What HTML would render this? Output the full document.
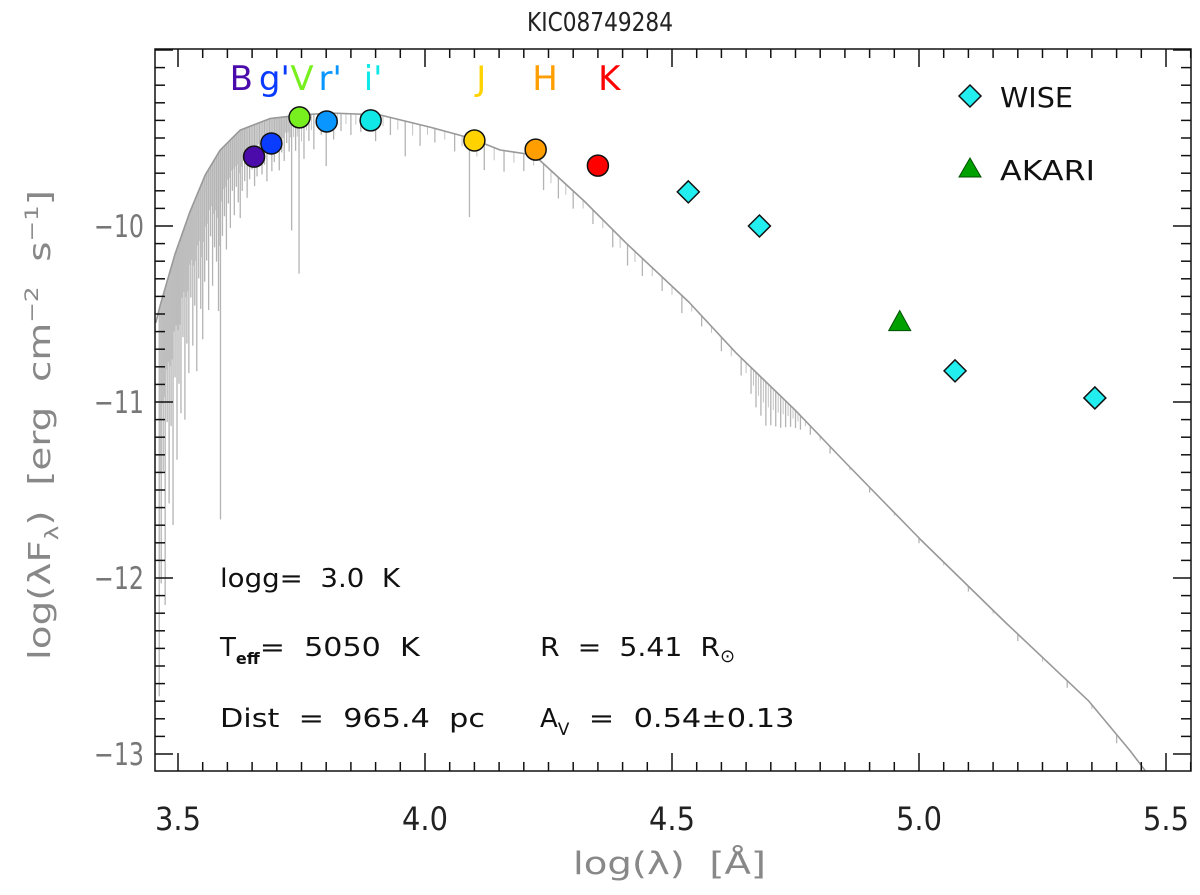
<!DOCTYPE html>
<html><head><meta charset="utf-8"><style>
html,body{margin:0;padding:0;background:#fff;}
svg{display:block;font-family:"DejaVu Sans","Liberation Sans",sans-serif;}
text{white-space:pre;}
</style></head><body>
<svg id="c" width="1200" height="895" viewBox="0 0 1200 895" xmlns="http://www.w3.org/2000/svg"></svg>
<script>
// ---- data ----
const photBands = ["B","g'","V","r'","i'","J","H","K"];
const photLabelLogLam = [3.628,3.695,3.751,3.808,3.895,4.114,4.243,4.373];
const photLogLam = [3.654,3.689,3.746,3.801,3.890,4.100,4.224,4.350];
const photLogFlux = [-9.606,-9.531,-9.383,-9.406,-9.400,-9.514,-9.566,-9.657];
const photColors = ["#4b0aaa","#0a3cff","#78f020","#0a96ff","#10e8e8","#ffd200","#ff9e00","#ff0000"];
const wiseLogLam = [4.533,4.677,5.073,5.356];
const wiseLogFlux = [-9.806,-10.0,-10.823,-10.977];
const akariLogLam = [4.961];
const akariLogFlux = [-10.543];
const modelLogLam = [3.455,3.464,3.494,3.524,3.555,3.585,3.626,3.686,3.747,3.808,3.909,4.010,4.091,4.152,4.221,4.322,4.407,4.534,4.630,4.749,4.850,5.004,5.174,5.344,5.427,5.50];
const modelLogFlux = [-10.55,-10.45,-10.16,-9.92,-9.71,-9.57,-9.455,-9.39,-9.37,-9.358,-9.369,-9.438,-9.50,-9.568,-9.597,-9.858,-10.097,-10.432,-10.722,-11.045,-11.341,-11.784,-12.25,-12.70,-12.98,-13.25];
const lineLogLam = [3.462,3.466,3.470,3.474,3.478,3.482,3.486,3.490,3.494,3.498,3.502,3.506,3.510,3.514,3.518,3.522,3.526,3.530,3.534,3.538,3.542,3.546,3.550,3.554,3.558,3.562,3.566,3.570,3.574,3.578,3.582,3.586,3.590,3.594,3.598,3.602,3.606,3.610,3.614,3.618,3.622,3.626,3.630,3.635,3.640,3.645,3.650,3.655,3.660,3.665,3.670,3.675,3.680,3.685,3.690,3.695,3.700,3.705,3.710,3.715,3.720,3.725,3.730,3.738,3.745,3.755,3.765,3.775,3.790,3.800,3.815,3.830,3.850,3.870,3.900,3.930,3.960,3.990,4.020,4.060,4.090,4.120,4.160,4.200,4.240,4.270,4.300,4.340,4.380,4.410,4.440,4.480,4.520,4.560,4.600,4.640,4.660,4.670,4.680,4.690,4.700,4.710,4.720,4.730,4.740,4.750,4.760,4.780,4.820,4.900,5.000,5.100,5.200,5.300,5.400];
const lineDepth = [2.2,1.6,1.0,1.8,0.8,1.3,0.9,1.5,0.7,1.2,0.8,1.0,0.6,1.1,0.7,0.9,0.5,0.8,0.6,1.0,0.5,0.7,0.9,0.6,0.5,0.8,0.4,0.7,0.5,0.6,0.9,2.1,0.5,0.4,0.6,0.35,0.5,0.3,0.45,0.3,0.4,0.5,0.35,0.3,0.4,0.3,0.25,0.35,0.3,0.2,0.3,0.25,0.35,0.2,0.3,0.25,0.2,0.3,0.2,0.25,0.15,0.2,0.65,0.2,0.9,0.25,0.15,0.2,0.12,0.3,0.15,0.1,0.12,0.1,0.15,0.1,0.2,0.12,0.08,0.1,0.45,0.15,0.12,0.1,0.15,0.12,0.1,0.08,0.1,0.12,0.1,0.08,0.1,0.06,0.08,0.1,0.15,0.2,0.22,0.25,0.22,0.2,0.18,0.15,0.12,0.1,0.08,0.05,0.04,0.03,0.03,0.03,0.04,0.04,0.05];
const xTicks = [3.5,4.0,4.5,5.0,5.5];
const xTickLabels = ["3.5","4.0","4.5","5.0","5.5"];
const yTicks = [-10,-11,-12,-13];
const yTickLabels = ["\u221210","\u221211","\u221212","\u221213"];

// ---- axes ----
const L=155,R=1191,T=49,B=771;
const X=v=>178+(v-3.5)*494;
const Y=v=>226-(v+10)*176;
const svg=document.getElementById('c');
const NS="http://www.w3.org/2000/svg";
function mk(tag,attrs,parent){const e=document.createElementNS(NS,tag);for(const k in attrs)e.setAttribute(k,attrs[k]);(parent||svg).appendChild(e);return e;}
function modelAt(v){for(let i=0;i<modelLogLam.length-1;i++){if(v>=modelLogLam[i]&&v<=modelLogLam[i+1]){const t=(v-modelLogLam[i])/(modelLogLam[i+1]-modelLogLam[i]);return modelLogFlux[i]+t*(modelLogFlux[i+1]-modelLogFlux[i]);}}return modelLogFlux[modelLogFlux.length-1];}

const clip=mk('clipPath',{id:'pc'});mk('rect',{x:L,y:T,width:R-L,height:B-T},clip);
const g=mk('g',{'clip-path':'url(#pc)'});


lineLogLam.forEach((v,i)=>{const f=modelAt(v);const l=mk('line',{x1:X(v),x2:X(v),y1:Y(f),y2:Y(f-lineDepth[i]),stroke:'#b4b4b4','stroke-width':1.3},g);

});
for(let i=0;i<lineLogLam.length-1;i++){const m=(lineLogLam[i]+lineLogLam[i+1])/2;const f=modelAt(m);const dep=Math.min(lineDepth[i],lineDepth[i+1])*0.6;mk('line',{x1:X(m),x2:X(m),y1:Y(f),y2:Y(f-dep),stroke:'#c4c4c4','stroke-width':1},g);}
let d='';
modelLogLam.forEach((v,i)=>{d+=(i?'L':'M')+X(v).toFixed(1)+' '+Y(modelLogFlux[i]).toFixed(1);});
mk('path',{d:d,fill:'none',stroke:'#999','stroke-width':1.6,'stroke-linejoin':'round'},g);

// frame
const fr=mk('rect',{x:L,y:T,width:R-L,height:B-T,fill:'none',stroke:'#111','stroke-width':1.5});


for(let k=0;k<=41;k++){const v=3.5+k*0.05;const x=X(v);if(x<L||x>R)continue;const major=(k%10===0);const len=major?18:9;
mk('line',{x1:x,x2:x,y1:B,y2:B-len,stroke:'#111','stroke-width':1.5});mk('line',{x1:x,x2:x,y1:T,y2:T+len,stroke:'#111','stroke-width':1.5});}
for(let k=0;k<=45;k++){const v=-13.1+k*0.1;const y=Y(v);if(y<T||y>B)continue;const major=Math.abs(v-Math.round(v))<0.01;const len=major?18:10;
mk('line',{x1:L,x2:L+len,y1:y,y2:y,stroke:'#111','stroke-width':1.5});mk('line',{x1:R,x2:R-len,y1:y,y2:y,stroke:'#111','stroke-width':1.5});}
xTicks.forEach((v,i)=>{const t=mk('text',{x:X(v),y:830,'text-anchor':'middle','font-size':32,fill:'#222',textLength:46,lengthAdjust:'spacingAndGlyphs'});t.textContent=xTickLabels[i];

});
yTicks.forEach((v,i)=>{const t=mk('text',{x:144,y:Y(v)+11,'text-anchor':'end','font-size':31,fill:'#777',textLength:50,lengthAdjust:'spacingAndGlyphs'});t.textContent=yTickLabels[i];

});

// photometry
photLogLam.forEach((v,i)=>{const c=mk('circle',{cx:X(v),cy:Y(photLogFlux[i]),r:10.5,fill:photColors[i],stroke:'#111','stroke-width':1.5});


const t=mk('text',{x:X(photLabelLogLam[i]),y:90,'text-anchor':'middle','font-size':34,fill:photColors[i]});t.textContent=photBands[i];

});
function diamond(x,y,s){return `M${x} ${y-s}L${x+s} ${y}L${x} ${y+s}L${x-s} ${y}Z`;}
wiseLogLam.forEach((v,i)=>{const p=mk('path',{d:diamond(X(v),Y(wiseLogFlux[i]),11),fill:'#22eef0',stroke:'#111','stroke-width':1.5});

});
akariLogLam.forEach((v,i)=>{const x=X(v),y=Y(akariLogFlux[i]);const p=mk('path',{d:`M${x} ${y-11}L${x+11} ${y+9}L${x-11} ${y+9}Z`,fill:'#00a000',stroke:'#005000','stroke-width':1});

});

const lw=mk('path',{d:diamond(970,96,11),fill:'#22eef0',stroke:'#111','stroke-width':1.5});


const la=mk('path',{d:'M970 158L981 177L959 177Z',fill:'#00a000',stroke:'#005000','stroke-width':1});


</script>
<svg style="position:absolute;left:0;top:0" width="1200" height="895" font-family="DejaVu Sans, Liberation Sans, sans-serif">
<text x="600" y="31" text-anchor="middle" font-size="26" fill="#222" textLength="146" lengthAdjust="spacingAndGlyphs">KIC08749284</text>
<text x="1000" y="107" font-size="28" fill="#111" textLength="73" lengthAdjust="spacingAndGlyphs">WISE</text>
<text x="1000" y="180" font-size="28" fill="#111" textLength="95" lengthAdjust="spacingAndGlyphs">AKARI</text>
<text x="220" y="587" font-size="26" fill="#111" textLength="180" lengthAdjust="spacingAndGlyphs">logg=  3.0  K</text>
<text x="220" y="656" font-size="26" fill="#111">T<tspan font-size="16" dy="8" font-weight="bold">eff</tspan><tspan dy="-8" textLength="160" lengthAdjust="spacingAndGlyphs">=  5050  K</tspan></text>
<text x="540" y="656" font-size="26" fill="#111"><tspan textLength="180" lengthAdjust="spacingAndGlyphs">R  =  5.41  R</tspan><tspan font-size="18" dy="6">⊙</tspan></text>
<text x="220" y="727" font-size="26" fill="#111" textLength="265" lengthAdjust="spacingAndGlyphs">Dist  =  965.4  pc</text>
<text x="540" y="727" font-size="26" fill="#111">A<tspan font-size="17" dy="8">V</tspan><tspan dy="-8" textLength="225" lengthAdjust="spacingAndGlyphs">  =  0.54±0.13</tspan></text>
<text x="573" y="874" font-size="31" fill="#888" textLength="193" lengthAdjust="spacingAndGlyphs">log(λ)  [Å]</text>
<text transform="translate(50,660) rotate(-90)" font-size="30" fill="#888" textLength="470" lengthAdjust="spacingAndGlyphs">log(λF<tspan font-size="19" dy="8">λ</tspan><tspan dy="-8">)  [erg  cm</tspan><tspan font-size="19" dy="-12">−2</tspan><tspan dy="12">  s</tspan><tspan font-size="19" dy="-12">−1</tspan><tspan dy="12">]</tspan></text>
</svg>
</body></html>
